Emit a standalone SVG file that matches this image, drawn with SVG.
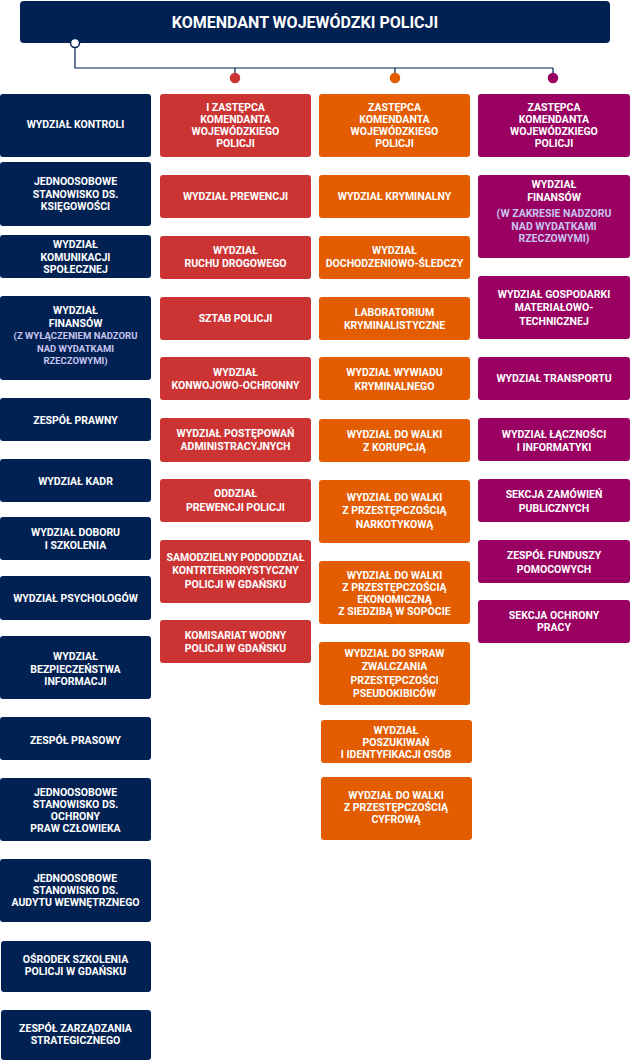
<svg xmlns="http://www.w3.org/2000/svg" width="630" height="1061" viewBox="0 0 630 1061">
<style>
text{font-family:Roboto,"Liberation Sans",sans-serif;font-weight:bold;font-size:10.5px;fill:#fff;text-anchor:middle}
.n{fill:#012152}.r{fill:#cc3434}.o{fill:#e35c00}.p{fill:#990062}
.s{fill:#c8c4f0}
.ln{fill:none;stroke:#012152;stroke-width:1.2}
.dot{fill:#fff;stroke-width:1.5}
</style>
<g id="connectors">
<path class="ln" d="M75,43 V68 H553 M235,68 V78 M395,68 V78 M553,68 V78"/>
</g>
<g id="top"><rect x="20" y="1" width="590" height="42" rx="4" class="n"/><text x="305" y="28" style="font-size:16px">KOMENDANT WOJEWÓDZKI POLICJI</text></g>
<circle cx="75" cy="43" r="4.5" class="dot" stroke="#012152"/>
<g id="l1"><rect x="0" y="94" width="151" height="63" rx="3" class="n"/><text x="75.5" y="128">WYDZIAŁ KONTROLI</text></g>
<g id="l2"><rect x="0" y="162" width="151" height="64" rx="3" class="n"/><text x="75.5" y="185">JEDNOOSOBOWE</text><text x="75.5" y="197.5">STANOWISKO DS.</text><text x="75.5" y="210">KSIĘGOWOŚCI</text></g>
<g id="l3"><rect x="0" y="235" width="151" height="43" rx="3" class="n"/><text x="75.5" y="248">WYDZIAŁ</text><text x="75.5" y="260.5">KOMUNIKACJI</text><text x="75.5" y="273">SPOŁECZNEJ</text></g>
<g id="l4"><rect x="0" y="296" width="151" height="84" rx="3" class="n"/><text x="75.5" y="314">WYDZIAŁ</text><text x="75.5" y="326.5">FINANSÓW</text><text x="75.5" y="339" class="s" style="font-size:9.5px">(Z WYŁĄCZENIEM NADZORU</text><text x="75.5" y="351.5" class="s" style="font-size:9.5px">NAD WYDATKAMI</text><text x="75.5" y="364" class="s" style="font-size:9.5px">RZECZOWYMI)</text></g>
<g id="l5"><rect x="0" y="398" width="151" height="43" rx="3" class="n"/><text x="75.5" y="424">ZESPÓŁ PRAWNY</text></g>
<g id="l6"><rect x="0" y="459" width="151" height="43" rx="3" class="n"/><text x="75.5" y="485">WYDZIAŁ KADR</text></g>
<g id="l7"><rect x="0" y="517" width="151" height="43" rx="3" class="n"/><text x="75.5" y="536">WYDZIAŁ DOBORU</text><text x="75.5" y="548.5">I SZKOLENIA</text></g>
<g id="l8"><rect x="0" y="576" width="151" height="44" rx="3" class="n"/><text x="75.5" y="602">WYDZIAŁ PSYCHOLOGÓW</text></g>
<g id="l9"><rect x="0" y="636" width="151" height="63" rx="3" class="n"/><text x="75.5" y="660">WYDZIAŁ</text><text x="75.5" y="672.5">BEZPIECZEŃSTWA</text><text x="75.5" y="685">INFORMACJI</text></g>
<g id="l10"><rect x="0" y="717" width="151" height="43" rx="3" class="n"/><text x="75.5" y="744">ZESPÓŁ PRASOWY</text></g>
<g id="l11"><rect x="0" y="778" width="151" height="63" rx="3" class="n"/><text x="75.5" y="796">JEDNOOSOBOWE</text><text x="75.5" y="808">STANOWISKO DS.</text><text x="75.5" y="820">OCHRONY</text><text x="75.5" y="832">PRAW CZŁOWIEKA</text></g>
<g id="l12"><rect x="0" y="859" width="151" height="63" rx="3" class="n"/><text x="75.5" y="882">JEDNOOSOBOWE</text><text x="75.5" y="894">STANOWISKO DS.</text><text x="75.5" y="906">AUDYTU WEWNĘTRZNEGO</text></g>
<g id="l13"><rect x="1" y="941" width="150" height="51" rx="3" class="n"/><text x="75.5" y="963">OŚRODEK SZKOLENIA</text><text x="75.5" y="975">POLICJI W GDAŃSKU</text></g>
<g id="l14"><rect x="1" y="1010" width="150" height="50" rx="3" class="n"/><text x="75.5" y="1032">ZESPÓŁ ZARZĄDZANIA</text><text x="75.5" y="1044">STRATEGICZNEGO</text></g>

<g id="r0"><rect x="160" y="94" width="151" height="63" rx="3" class="r"/><text x="235.5" y="111">I ZASTĘPCA</text><text x="235.5" y="123">KOMENDANTA</text><text x="235.5" y="135">WOJEWÓDZKIEGO</text><text x="235.5" y="147">POLICJI</text></g>
<circle cx="235" cy="78" r="4.5" class="dot" stroke="#cc3434" fill="#cc3434" style="fill:#cc3434"/>
<g id="r1"><rect x="160" y="175" width="151" height="43" rx="3" class="r"/><text x="235.5" y="200">WYDZIAŁ PREWENCJI</text></g>
<g id="r2"><rect x="160" y="236" width="151" height="43" rx="3" class="r"/><text x="235.5" y="254">WYDZIAŁ</text><text x="235.5" y="267">RUCHU DROGOWEGO</text></g>
<g id="r3"><rect x="160" y="297" width="151" height="43" rx="3" class="r"/><text x="235.5" y="322">SZTAB POLICJI</text></g>
<g id="r4"><rect x="160" y="357" width="151" height="43" rx="3" class="r"/><text x="235.5" y="376">WYDZIAŁ</text><text x="235.5" y="389">KONWOJOWO-OCHRONNY</text></g>
<g id="r5"><rect x="160" y="418" width="151" height="44" rx="3" class="r"/><text x="235.5" y="437">WYDZIAŁ POSTĘPOWAŃ</text><text x="235.5" y="450">ADMINISTRACYJNYCH</text></g>
<g id="r6"><rect x="160" y="479" width="151" height="43" rx="3" class="r"/><text x="235.5" y="497">ODDZIAŁ</text><text x="235.5" y="511">PREWENCJI POLICJI</text></g>
<g id="r7"><rect x="160" y="540" width="151" height="63" rx="3" class="r"/><text x="235.5" y="561">SAMODZIELNY PODODDZIAŁ</text><text x="235.5" y="574">KONTRTERRORYSTYCZNY</text><text x="235.5" y="588">POLICJI W GDAŃSKU</text></g>
<g id="r8"><rect x="160" y="620" width="151" height="43" rx="3" class="r"/><text x="235.5" y="639">KOMISARIAT WODNY</text><text x="235.5" y="652">POLICJI W GDAŃSKU</text></g>

<g id="o0"><rect x="319" y="94" width="151" height="63" rx="3" class="o"/><text x="394.5" y="111">ZASTĘPCA</text><text x="394.5" y="123">KOMENDANTA</text><text x="394.5" y="135">WOJEWÓDZKIEGO</text><text x="394.5" y="147">POLICJI</text></g>
<circle cx="395" cy="78" r="4.5" stroke="#e35c00" stroke-width="1.5" fill="#e35c00"/>
<g id="o1"><rect x="319" y="175" width="151" height="43" rx="3" class="o"/><text x="394.5" y="200">WYDZIAŁ KRYMINALNY</text></g>
<g id="o2"><rect x="319" y="236" width="151" height="43" rx="3" class="o"/><text x="394.5" y="254">WYDZIAŁ</text><text x="394.5" y="267">DOCHODZENIOWO-ŚLEDCZY</text></g>
<g id="o3"><rect x="319" y="297" width="151" height="43" rx="3" class="o"/><text x="394.5" y="316">LABORATORIUM</text><text x="394.5" y="329">KRYMINALISTYCZNE</text></g>
<g id="o4"><rect x="319" y="357" width="151" height="43" rx="3" class="o"/><text x="394.5" y="376">WYDZIAŁ WYWIADU</text><text x="394.5" y="390">KRYMINALNEGO</text></g>
<g id="o5"><rect x="319" y="419" width="151" height="43" rx="3" class="o"/><text x="394.5" y="438">WYDZIAŁ DO WALKI</text><text x="394.5" y="451">Z KORUPCJĄ</text></g>
<g id="o6"><rect x="319" y="480" width="151" height="63" rx="3" class="o"/><text x="394.5" y="501">WYDZIAŁ DO WALKI</text><text x="394.5" y="514">Z PRZESTĘPCZOŚCIĄ</text><text x="394.5" y="528">NARKOTYKOWĄ</text></g>
<g id="o7"><rect x="319" y="561" width="151" height="63" rx="3" class="o"/><text x="394.5" y="579">WYDZIAŁ DO WALKI</text><text x="394.5" y="591">Z PRZESTĘPCZOŚCIĄ</text><text x="394.5" y="603">EKONOMICZNĄ</text><text x="394.5" y="615">Z SIEDZIBĄ W SOPOCIE</text></g>
<g id="o8"><rect x="319" y="642" width="151" height="63" rx="3" class="o"/><text x="394.5" y="657">WYDZIAŁ DO  SPRAW</text><text x="394.5" y="670">ZWALCZANIA</text><text x="394.5" y="684">PRZESTĘPCZOŚCI</text><text x="394.5" y="697">PSEUDOKIBICÓW</text></g>
<g id="o9"><rect x="321" y="720" width="151" height="43" rx="3" class="o"/><text x="396" y="734">WYDZIAŁ</text><text x="396" y="746">POSZUKIWAŃ</text><text x="396" y="758">I IDENTYFIKACJI OSÓB</text></g>
<g id="o10"><rect x="321" y="777" width="151" height="63" rx="3" class="o"/><text x="396" y="799">WYDZIAŁ DO WALKI</text><text x="396" y="811">Z PRZESTĘPCZOŚCIĄ</text><text x="396" y="823">CYFROWĄ</text></g>

<g id="p0"><rect x="478" y="94" width="152" height="63" rx="3" class="p"/><text x="554" y="111">ZASTĘPCA</text><text x="554" y="123">KOMENDANTA</text><text x="554" y="135">WOJEWÓDZKIEGO</text><text x="554" y="147">POLICJI</text></g>
<circle cx="553" cy="78" r="4.5" stroke="#990062" stroke-width="1.5" fill="#990062"/>
<g id="p1"><rect x="478" y="175" width="152" height="83" rx="3" class="p"/><text x="554" y="188">WYDZIAŁ</text><text x="554" y="201">FINANSÓW</text><text x="554" y="217" class="s">(W ZAKRESIE NADZORU</text><text x="554" y="229.5" class="s">NAD WYDATKAMI</text><text x="554" y="242" class="s">RZECZOWYMI)</text></g>
<g id="p2"><rect x="478" y="276" width="152" height="63" rx="3" class="p"/><text x="554" y="298">WYDZIAŁ GOSPODARKI</text><text x="554" y="311">MATERIAŁOWO-</text><text x="554" y="325">TECHNICZNEJ</text></g>
<g id="p3"><rect x="478" y="357" width="152" height="43" rx="3" class="p"/><text x="554" y="382">WYDZIAŁ TRANSPORTU</text></g>
<g id="p4"><rect x="478" y="418" width="152" height="43" rx="3" class="p"/><text x="554" y="438">WYDZIAŁ ŁĄCZNOŚCI</text><text x="554" y="451">I INFORMATYKI</text></g>
<g id="p5"><rect x="478" y="479" width="152" height="43" rx="3" class="p"/><text x="554" y="498">SEKCJA ZAMÓWIEŃ</text><text x="554" y="512">PUBLICZNYCH</text></g>
<g id="p6"><rect x="478" y="540" width="152" height="43" rx="3" class="p"/><text x="554" y="559">ZESPÓŁ FUNDUSZY</text><text x="554" y="573">POMOCOWYCH</text></g>
<g id="p7"><rect x="478" y="600" width="152" height="43" rx="3" class="p"/><text x="554" y="619">SEKCJA OCHRONY</text><text x="554" y="631">PRACY</text></g>
</svg>
